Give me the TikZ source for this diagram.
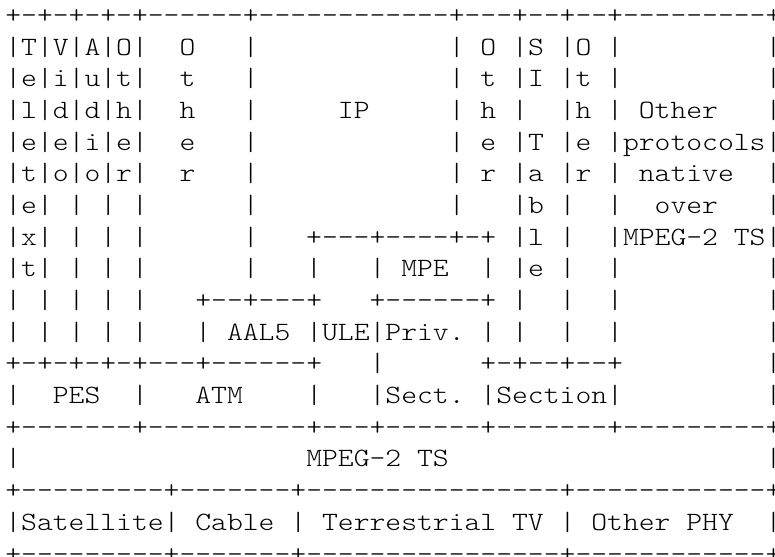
\documentclass[tikz,border=0pt]{standalone}
\usepackage{fontspec}
\setmonofont{lmmonolt10-regular.otf}[FakeStretch=1.1429]
\usepackage{tikz}

\begin{document}
\begin{tikzpicture}[x=6pt, y=12pt,
    row/.style={anchor=base west, inner sep=0pt, font=\ttfamily\fontsize{10}{12}\selectfont}]
    \useasboundingbox (-0.303,0.742) rectangle (48.63,-16.84);

    % Upper layers
    \node[row] (R1) at (0,0) {+-+-+-+-+------+------------+---+--+--+---------+};
    \node[row] (R2) at (0,-1) {|T|V|A|O|~~O~~~|~~~~~~~~~~~~|~O~|S~|O~|~~~~~~~~~|};
    \node[row] (R3) at (0,-2) {|e|i|u|t|~~t~~~|~~~~~~~~~~~~|~t~|I~|t~|~~~~~~~~~|};
    \node[row] (R4) at (0,-3) {|l|d|d|h|~~h~~~|~~~~~IP~~~~~|~h~|~~|h~|~Other~~~|};
    \node[row] (R5) at (0,-4) {|e|e|i|e|~~e~~~|~~~~~~~~~~~~|~e~|T~|e~|protocols|};
    \node[row] (R6) at (0,-5) {|t|o|o|r|~~r~~~|~~~~~~~~~~~~|~r~|a~|r~|~native~~|};
    \node[row] (R7) at (0,-6) {|e|~|~|~|~~~~~~|~~~~~~~~~~~~|~~~|b~|~~|~~over~~~|};
    \node[row] (R8) at (0,-7) {|x|~|~|~|~~~~~~|~~~+---+----+-+~|l~|~~|MPEG-2~TS|};
    \node[row] (R9) at (0,-8) {|t|~|~|~|~~~~~~|~~~|~~~|~MPE~~|~|e~|~~|~~~~~~~~~|};

    % Adaptation layers
    \node[row] (R10) at (0,-9) {|~|~|~|~|~~~+--+---+~~~+------+~|~~|~~|~~~~~~~~~|};
    \node[row] (R11) at (0,-10) {|~|~|~|~|~~~|~AAL5~|ULE|Priv.~|~|~~|~~|~~~~~~~~~|};
    \node[row] (R12) at (0,-11) {+-+-+-+-+---+------+~~~|~~~~~~+-+--+--+~~~~~~~~~|};
    \node[row] (R13) at (0,-12) {|~~PES~~|~~~ATM~~~~|~~~|Sect.~|Section|~~~~~~~~~|};
    \node[row] (R14) at (0,-13) {+-------+----------+---+------+-------+---------+};

    % Transport stream
    \node[row] (R15) at (0,-14) {|~~~~~~~~~~~~~~~~~~MPEG-2~TS~~~~~~~~~~~~~~~~~~~~|};
    \node[row] (R16) at (0,-15) {+---------+-------+----------------+------------+};

    % Physical layers
    \node[row] (R17) at (0,-16) {|Satellite|~Cable~|~Terrestrial~TV~|~Other~PHY~~|};
    \node[row] (R18) at (0,-17) {+---------+-------+----------------+------------+};
\end{tikzpicture}
\end{document}
